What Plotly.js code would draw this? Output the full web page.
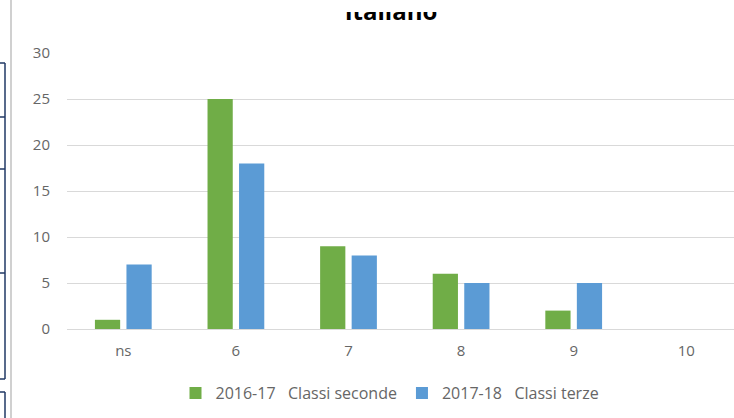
<!DOCTYPE html>
<html>
<head>
<meta charset="utf-8">
<script src="https://cdn.plot.ly/plotly-3.0.1.min.js"></script>
<style>
html,body{margin:0;padding:0;background:#fff;}
#chart{width:734px;height:418px;}
#cut{position:absolute;left:320px;top:0;width:150px;height:12px;background:#fff;}
</style>
</head>
<body>
<div id="chart"></div>
<div id="cut"></div>
<script>
const categories = ["ns", "6", "7", "8", "9", "10"];
const series1Name = "2016-17\u00a0\u00a0\u00a0Classi seconde";
const series1 = [1, 25, 9, 6, 2, 0];
const series2Name = "2017-18\u00a0\u00a0\u00a0Classi terze";
const series2 = [7, 18, 8, 5, 5, 0];
const yTicks = [0, 5, 10, 15, 20, 25, 30];

const W = 734, H = 418, L = 67, R = 0, T = 53, B = 89;
const pw = W - L - R, ph = H - T - B;
const px = x => (x - L) / pw;
const py = y => (H - B - y) / ph;

const font = {family: "Open Sans, sans-serif", size: 15, color: "#666666"};

const shapes = [];
shapes.push({type: "line", xref: "paper", yref: "paper", x0: px(11), x1: px(11), y0: py(0), y1: py(418), line: {color: "#d0d0d0", width: 2}});
const navy = "#203864";
shapes.push({type: "line", xref: "paper", yref: "paper", x0: px(5), x1: px(5), y0: py(63), y1: py(379), line: {color: navy, width: 1.5}});
[63, 117, 169, 273, 379].forEach(y => shapes.push({type: "line", xref: "paper", yref: "paper", x0: px(0), x1: px(5), y0: py(y), y1: py(y), line: {color: navy, width: 1.5}}));
shapes.push({type: "line", xref: "paper", yref: "paper", x0: px(5), x1: px(5), y0: py(392), y1: py(418), line: {color: navy, width: 1.5}});
shapes.push({type: "line", xref: "paper", yref: "paper", x0: px(0), x1: px(5), y0: py(392), y1: py(392), line: {color: navy, width: 1.5}});

const data = [
  {type: "bar", name: series1Name, x: categories, y: series1, marker: {color: "#70ad47"}, hoverinfo: "none"},
  {type: "bar", name: series2Name, x: categories, y: series2, marker: {color: "#5b9bd5"}, hoverinfo: "none"}
];

const layout = {
  width: W, height: H,
  margin: {l: L, r: R, t: T, b: B, pad: 0},
  paper_bgcolor: "#ffffff", plot_bgcolor: "#ffffff",
  barmode: "group", bargap: 0.44, bargroupgap: 0.2,
  font: font,
  title: {text: "Italiano", font: {family: "Open Sans, sans-serif", size: 24, color: "#000000", weight: "bold"},
          xref: "container", x: 391 / W, xanchor: "center", yref: "container", y: 1 - 11.6 / H, yanchor: "middle"},
  xaxis: {type: "category", range: [-0.5, -0.5 + pw / 112.6], showgrid: false, zeroline: false, showline: false,
          ticks: "", ticklabelstandoff: 11, tickfont: font, fixedrange: true},
  yaxis: {range: [0, 30], tickvals: yTicks, ticktext: yTicks.map(String), showgrid: true, gridcolor: "#d9d9d9", gridwidth: 1,
          zeroline: true, zerolinecolor: "#d9d9d9", zerolinewidth: 1, showline: false, ticks: "", ticklabelstandoff: 16,
          tickfont: font, fixedrange: true},
  showlegend: true,
  legend: {orientation: "h", x: 390 / W, xref: "container", xanchor: "center", y: 1 - 393 / H, yref: "container", yanchor: "middle",
           font: {family: "Open Sans, sans-serif", size: 16, color: "#666666"}, itemwidth: 30, traceorder: "normal"},
  shapes: shapes
};

Plotly.newPlot("chart", data, layout, {displayModeBar: false, staticPlot: true});
</script>
</body>
</html>
